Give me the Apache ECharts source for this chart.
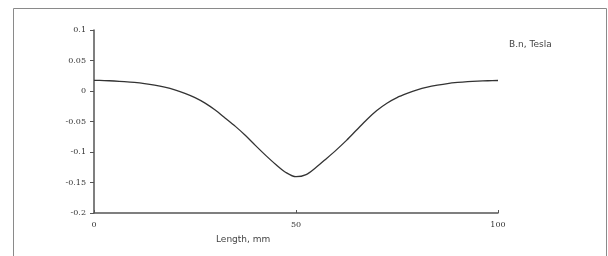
<!DOCTYPE html>
<html><head><meta charset="utf-8">
<script src="https://cdn.jsdelivr.net/npm/echarts@6/dist/echarts.min.js"></script>
<style>html,body{margin:0;padding:0;background:#fff}#c{width:608px;height:256px}</style>
</head><body><div id="c"></div>
<script>
var lengthMm = [0,2.5,5,7.5,10,12.5,15,17.5,20,22.5,25,27.5,30,32.5,35,37.5,40,42.5,45,47.5,50,52.5,55,57.5,60,62.5,65,67.5,70,72.5,75,77.5,80,82.5,85,87.5,90,92.5,95,97.5,100];
var bnTesla = [0.0175,0.0171,0.0164,0.0154,0.0141,0.0122,0.0096,0.0062,0.0018,-0.0038,-0.0108,-0.0198,-0.0312,-0.0445,-0.0580,-0.0730,-0.0895,-0.1055,-0.1205,-0.1335,-0.1405,-0.1370,-0.1250,-0.1110,-0.0965,-0.0810,-0.0640,-0.0470,-0.0320,-0.0200,-0.0108,-0.0040,0.0018,0.0062,0.0095,0.0122,0.0140,0.0153,0.0162,0.0168,0.0172];
var xTicks = [0,50,100];
var yTicks = [-0.2,-0.15,-0.1,-0.05,0,0.05,0.1];
var xTitle = 'Length, mm';
var seriesName = 'B.n, Tesla';

var chart = echarts.init(document.getElementById('c'));
chart.setOption({
  animation:false,
  backgroundColor:'#fff',
  grid:{left:94,right:110,top:30,bottom:43},
  graphic:[
    {type:'rect',shape:{x:13.5,y:8.5,width:593,height:260},style:{fill:'none',stroke:'#8a8a8a',lineWidth:1},silent:true},
    {type:'text',left:216,top:235,style:{text:xTitle,fill:'#444',font:'9px "DejaVu Sans"'}},
    {type:'text',left:509,top:40,style:{text:seriesName,fill:'#444',font:'9px "DejaVu Sans"'}}
  ],
  xAxis:{type:'value',min:xTicks[0],max:xTicks[xTicks.length-1],interval:50,
    axisLine:{onZero:false,lineStyle:{color:'#555',width:1.5}},
    axisTick:{inside:true,length:3,lineStyle:{color:'#555'}},
    axisLabel:{color:'#333',fontFamily:'"DejaVu Serif"',fontSize:8,margin:8},
    splitLine:{show:false}},
  yAxis:{type:'value',min:yTicks[0],max:yTicks[yTicks.length-1],interval:0.05,
    axisLine:{show:true,onZero:false,lineStyle:{color:'#555',width:1.5}},
    axisTick:{show:true,length:4,lineStyle:{color:'#555'}},
    axisLabel:{color:'#333',fontFamily:'"DejaVu Serif"',fontSize:8,margin:8,
      formatter:function(v){return String(Math.round(v*100)/100);}},
    splitLine:{show:false}},
  series:[{type:'line',name:seriesName,data:lengthMm.map(function(x,i){return [x,bnTesla[i]];}),
    showSymbol:false,smooth:0.3,lineStyle:{color:'#333',width:1.3}}]
});
</script></body></html>
